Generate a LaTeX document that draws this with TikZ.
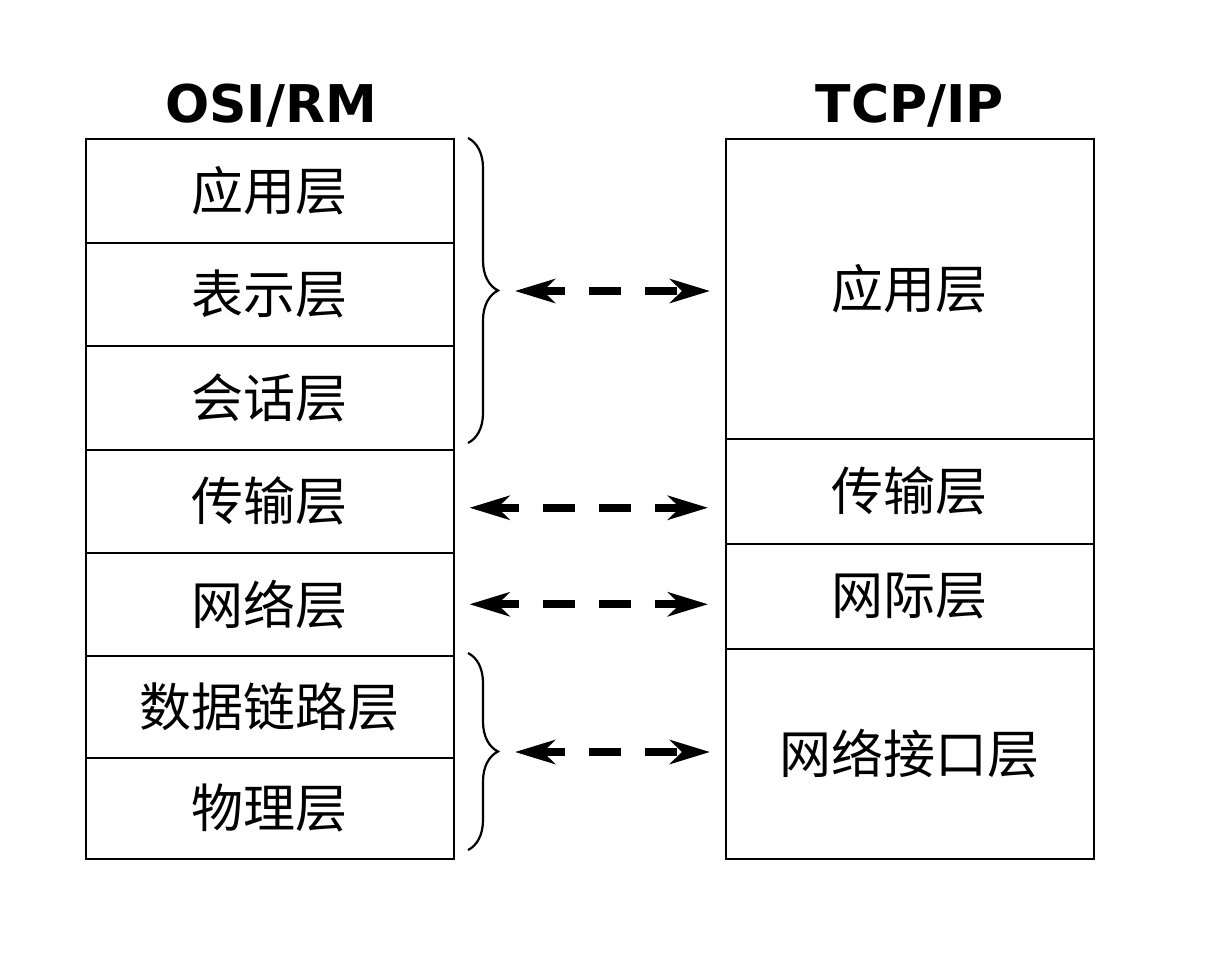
\documentclass[tikz,border=0pt]{standalone}
\usepackage{fontspec}
\newfontfamily\cjk{Noto Sans CJK SC}
\newfontfamily\titlefont{DejaVu Sans}
\usetikzlibrary{arrows.meta,decorations.pathreplacing}
\tikzset{
  layer/.style={draw, line width=1.5pt, minimum width=368pt, inner sep=0pt, anchor=north west,
    font=\cjk\fontsize{52}{52}\selectfont},
  title/.style={anchor=base, font=\titlefont\bfseries\fontsize{52}{52}\selectfont},
  link/.style={line width=8pt,
    {Stealth[length=40pt,width=24pt,inset=12pt]}-{Stealth[length=40pt,width=24pt,inset=12pt]},
    dash pattern=on 32pt off 24pt, dash phase=7pt},
  bracket/.style={decorate, decoration={brace, amplitude=30pt}, line width=2.2pt}
}
\begin{document}
\begin{tikzpicture}[x=1pt,y=-1pt]
\useasboundingbox (0,0) rectangle (1216,978);
% titles
\node[title] (tosi) at (271,122) {OSI/RM};
\node[title] (ttcp) at (910,122) {TCP/IP};
% OSI layers
\node[layer, minimum height=104pt] (o1) at (85,138) {应用层};
\node[layer, minimum height=103pt] (o2) at (85,242) {表示层};
\node[layer, minimum height=104pt] (o3) at (85,345) {会话层};
\node[layer, minimum height=103pt] (o4) at (85,449) {传输层};
\node[layer, minimum height=103pt] (o5) at (85,552) {网络层};
\node[layer, minimum height=102pt] (o6) at (85,655) {数据链路层};
\node[layer, minimum height=101pt] (o7) at (85,757) {物理层};
% TCP/IP layers
\node[layer, minimum height=300pt] (t1) at (725,138) {应用层};
\node[layer, minimum height=105pt] (t2) at (725,438) {传输层};
\node[layer, minimum height=105pt] (t3) at (725,543) {网际层};
\node[layer, minimum height=210pt] (t4) at (725,648) {网络接口层};
% braces
\coordinate (b1s) at (468,138);
\coordinate (b1e) at (468,443);
\coordinate (b2s) at (468,653);
\coordinate (b2e) at (468,850);
\coordinate (bt1) at (498,291);
\coordinate (bt2) at (498,752);
\draw[bracket] (b1s) -- (b1e);
\draw[bracket] (b2s) -- (b2e);
% connectors
\draw[link, shorten <=17pt, shorten >=15pt] (bt1) -- (bt1 -| t1.west);
\draw[link, shorten <=15pt, shorten >=17pt] ([yshift=-6.5pt]o4.east) -- ([yshift=-6.5pt]o4.east -| t2.west);
\draw[link, shorten <=15pt, shorten >=17pt] (o5.east) -- (o5.east -| t3.west);
\draw[link, shorten <=17pt, shorten >=15pt] (bt2) -- (bt2 -| t4.west);
\end{tikzpicture}
\end{document}
